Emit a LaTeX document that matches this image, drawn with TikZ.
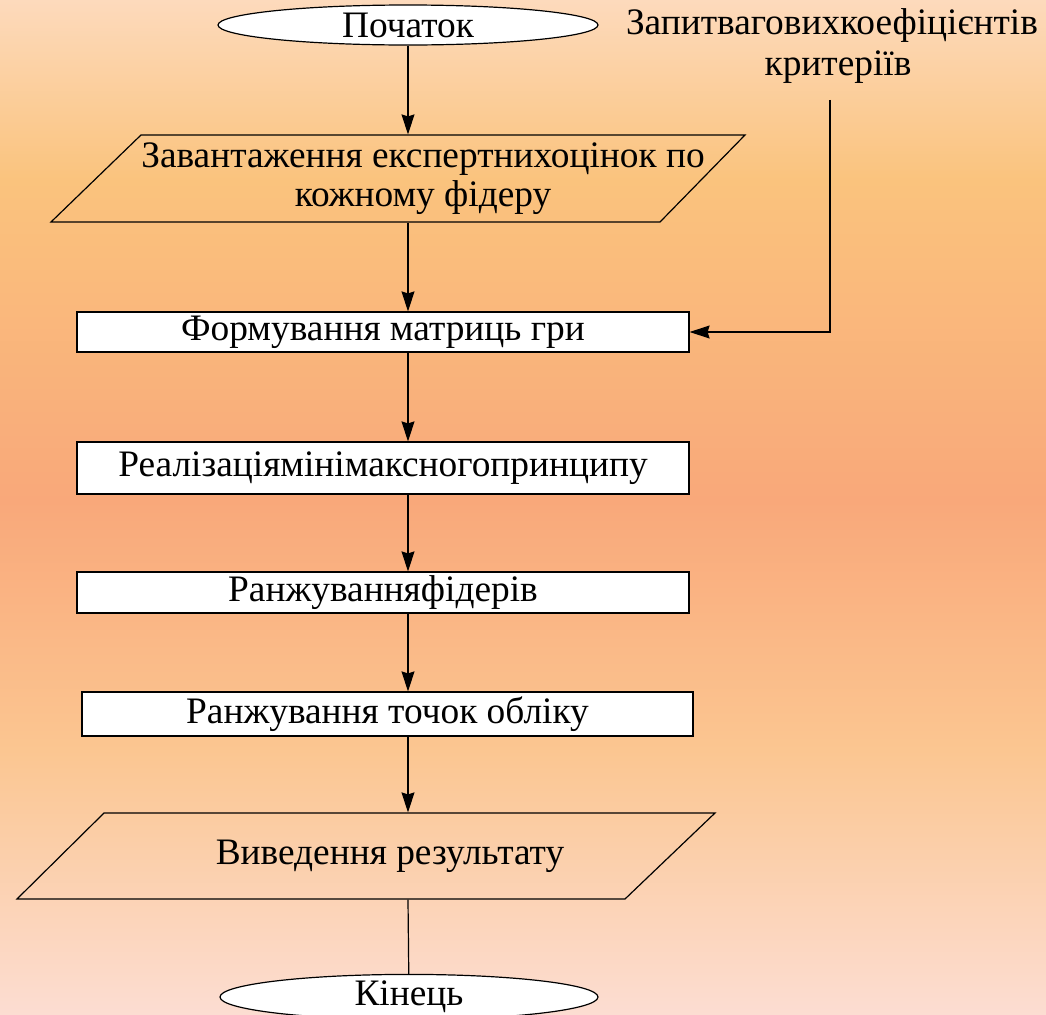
\documentclass[tikz,border=0pt]{standalone}
\usepackage{fontspec}
\setmainfont{Liberation Serif}
\usetikzlibrary{shapes.geometric, arrows.meta}

\definecolor{bgtop}{RGB}{253,218,188}
\definecolor{bgyel}{RGB}{250,195,125}
\definecolor{bgmid}{RGB}{249,168,122}
\definecolor{bglow}{RGB}{251,198,145}
\definecolor{bgbot}{RGB}{252,221,210}

\newcommand{\blockfont}{\fontsize{37.5}{39}\selectfont}

\tikzset{
	arr/.style={-{Stealth[length=20bp, width=13bp, inset=2bp]}},
	terminal/.style={ellipse, draw, fill=white, inner sep=0pt},
	block/.style={rectangle, draw, fill=white, inner sep=0pt},
	iotext/.style={align=center, inner sep=0pt, minimum height=87bp}
}

\begin{document}
\begin{tikzpicture}[x=1bp, y=-1bp, line width=1.2bp, font=\blockfont]
		\useasboundingbox	(0, 0) rectangle (1046, 1015);
		\shade [top color=bgtop, bottom color=bgyel]	(0, 0) rectangle (1046, 181);
		\shade [top color=bgyel, bottom color=bgmid]	(0, 180) rectangle (1046, 501);
		\shade [top color=bgmid, bottom color=bglow]	(0, 500) rectangle (1046, 751);
		\shade [top color=bglow, bottom color=bgbot]	(0, 750) rectangle (1046, 1015);

		\node [terminal, minimum width=380bp, minimum height=40bp]	(start)	at (408, 25)	{Початок};
		\node [align=center, font=\fontsize{37.5}{42}\selectfont]	(query)	at (832, 46)	{Запитваговихкоефіцієнтів\\\hspace*{12bp}критеріїв};

		\draw	(51, 222) -- (141, 135) -- (745, 135) -- (660, 222) -- cycle;
		\node [iotext]	(load)	at (423, 178.5)	{Завантаження експертнихоцінок по\\кожному фідеру};

		\node [block, minimum width=612bp, minimum height=40bp]	(game)	at (383, 332)	{Формування матриць гри};
		\node [block, minimum width=612bp, minimum height=52bp]	(minimax)	at (383, 468)	{Реалізаціямінімаксногопринципу};
		\node [block, minimum width=612bp, minimum height=41bp]	(rankf)	at (383, 592.5)	{Ранжуванняфідерів};
		\node [block, minimum width=611bp, minimum height=44bp]	(rankp)	at (387.5, 714)	{Ранжування точок обліку};

		\draw	(17, 899) -- (104, 813) -- (715, 813) -- (625, 899) -- cycle;
		\node [iotext, minimum height=86bp]	(out)	at (390, 856)	{Виведення результату};

		\node [terminal, minimum width=378bp, minimum height=42bp]	(finish)	at (409, 997)	{Кінець};

		\draw [arr]	(start) -- (start |- load.north);
		\draw [arr]	(load.south -| start) -- (game.north -| start);
		\draw [arr]	(game.south -| start) -- (minimax.north -| start);
		\draw [arr]	(minimax.south -| start) -- (rankf.north -| start);
		\draw [arr]	(rankf.south -| start) -- (rankp.north -| start);
		\draw [arr]	(rankp.south -| start) -- (out.north -| start);
		\draw	(out.south -| start) -- (finish);

		\draw [arr]	([xshift=-2bp, yshift=-12bp]query.south) |- (game.east);
	\end{tikzpicture}
\end{document}
